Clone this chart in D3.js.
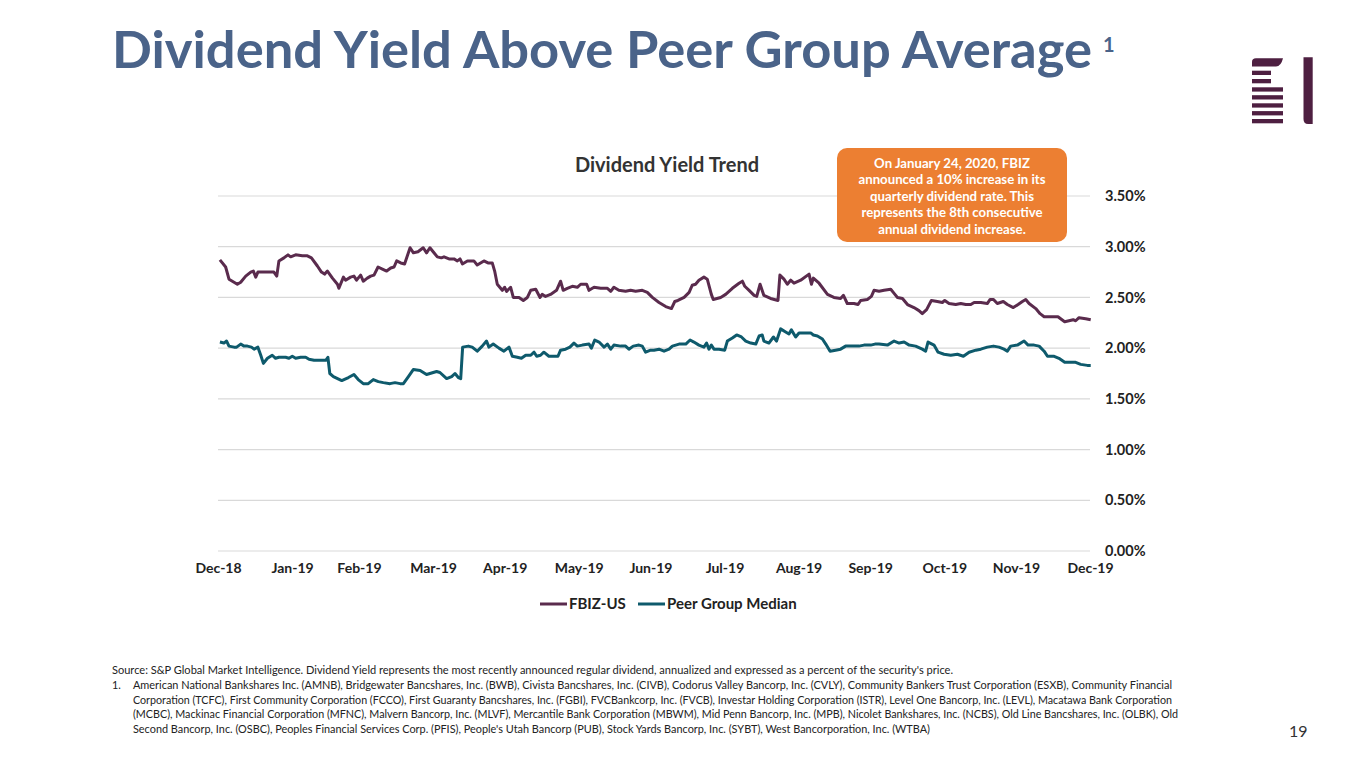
<!DOCTYPE html>
<html>
<head>
<meta charset="utf-8">
<script src="https://cdn.jsdelivr.net/npm/d3@7"></script>
<style>
  html, body { margin: 0; padding: 0; background: #fff; }
  svg { display: block; }
  text { font-family: Lato, "Open Sans", sans-serif; }
</style>
</head>
<body>
<svg id="chart" width="1365" height="768"></svg>
<script>
// ---------------- DATA ----------------
// Day of year (0 = 31 Dec 2018) and dividend yield (%)
const fbizDays = [0.8,3.2,4.6,6.0,8.1,9.5,11.6,13.7,14.8,15.8,16.7,19.3,23.4,24.6,25.5,27.6,29.3,30.4,32.5,35.3,37.4,39.1,41.6,43.3,44.6,45.8,47.9,50.0,50.6,52.5,53.4,55.5,56.9,58.0,59.7,60.8,62.5,63.9,65.3,67.0,68.8,70.6,72.3,73.7,74.8,76.5,78.1,80.4,81.8,83.7,85.9,87.3,88.7,90.4,91.8,93.5,94.6,96.7,98.8,100.2,101.3,102.3,104.4,107.1,108.5,111.3,113.0,114.8,115.8,116.9,119.0,120.0,120.8,122.5,123.6,126.0,127.8,129.5,130.9,133.0,134.8,135.7,137.1,139.2,141.7,143.4,144.5,146.2,148.3,150.4,151.8,154.3,155.3,157.4,160.2,163.0,164.4,165.7,167.8,170.6,172.7,174.8,177.6,179.7,181.8,184.6,187.4,189.8,191.2,192.5,195.1,197.2,198.5,199.9,201.3,203.4,204.8,206.5,207.3,210.4,212.5,215.3,218.1,219.5,220.5,222.3,224.4,225.5,226.9,228.5,231.3,234.4,235.2,236.9,238.3,239.7,241.1,243.9,247.4,248.4,249.2,251.6,255.1,257.8,260.6,261.8,263.4,266.2,267.9,269.0,271.8,273.5,274.6,276.7,278.8,281.6,283.0,284.4,286.5,288.6,291.3,293.4,294.8,296.6,298.6,301.1,303.2,304.2,306.0,308.8,310.9,313.0,315.1,316.5,319.3,322.0,323.2,324.6,326.2,328.7,330.4,332.9,334.9,336.7,338.1,339.5,342.3,344.1,345.8,348.5,351.6,352.7,354.4,356.2,358.0,359.0,360.4,363.2,365.3];
const fbizYield = [2.87,2.80,2.68,2.66,2.63,2.65,2.71,2.75,2.76,2.70,2.75,2.75,2.75,2.71,2.86,2.89,2.92,2.90,2.92,2.91,2.91,2.89,2.81,2.75,2.73,2.76,2.69,2.63,2.59,2.70,2.67,2.70,2.71,2.67,2.72,2.66,2.69,2.71,2.72,2.80,2.78,2.76,2.79,2.80,2.86,2.84,2.83,2.99,2.94,2.95,2.99,2.94,2.99,2.94,2.90,2.89,2.90,2.88,2.88,2.86,2.88,2.83,2.86,2.86,2.82,2.86,2.84,2.84,2.76,2.63,2.57,2.60,2.56,2.60,2.50,2.50,2.47,2.50,2.57,2.58,2.50,2.53,2.51,2.53,2.57,2.66,2.57,2.59,2.61,2.60,2.63,2.63,2.57,2.60,2.59,2.59,2.56,2.60,2.57,2.56,2.57,2.56,2.57,2.55,2.50,2.45,2.41,2.39,2.46,2.47,2.50,2.55,2.62,2.63,2.67,2.70,2.68,2.53,2.48,2.50,2.53,2.59,2.64,2.66,2.61,2.57,2.52,2.51,2.63,2.52,2.49,2.47,2.72,2.68,2.63,2.67,2.64,2.67,2.73,2.63,2.69,2.64,2.53,2.50,2.49,2.52,2.44,2.44,2.43,2.47,2.48,2.51,2.57,2.56,2.57,2.58,2.54,2.50,2.49,2.43,2.40,2.37,2.34,2.38,2.47,2.46,2.45,2.47,2.44,2.43,2.44,2.43,2.43,2.45,2.45,2.44,2.48,2.48,2.44,2.46,2.43,2.40,2.43,2.46,2.48,2.44,2.39,2.34,2.31,2.31,2.31,2.29,2.26,2.27,2.28,2.27,2.30,2.29,2.28];

const peerDays = [0.8,2.5,3.6,4.6,6.7,7.8,9.5,10.9,12.3,14.0,15.1,16.7,17.9,19.0,20.7,22.7,24.1,25.5,28.3,29.7,31.1,32.5,34.6,36.7,38.1,40.2,43.0,45.1,46.0,46.8,48.3,51.8,54.6,56.9,58.7,60.8,62.9,65.0,67.1,69.2,72.0,74.1,76.2,77.6,79.7,81.8,84.6,87.3,88.7,91.5,92.9,95.7,97.8,99.2,100.6,101.6,102.4,104.8,106.4,108.5,110.6,112.4,113.4,115.2,117.6,119.7,121.8,123.2,125.3,127.0,128.8,130.9,132.3,133.4,135.0,136.4,138.5,140.6,142.3,143.4,145.5,147.3,149.0,150.4,152.5,155.3,156.3,157.7,159.5,161.6,163.0,164.4,165.7,168.5,170.6,172.0,173.8,176.2,177.6,179.0,181.1,182.5,184.6,186.7,188.8,190.2,191.6,193.0,195.8,197.6,199.2,201.3,203.4,204.5,205.5,206.5,207.6,209.7,212.1,213.2,215.3,217.1,219.1,220.9,223.0,225.1,226.5,227.8,228.5,230.6,232.5,233.8,235.5,237.6,239.0,240.0,241.8,243.2,246.0,248.1,249.2,250.9,253.0,254.4,256.2,258.5,260.6,262.7,265.5,268.3,270.4,273.2,275.0,276.7,280.2,283.0,285.1,287.2,289.3,292.0,294.8,296.2,297.2,299.7,301.4,303.9,306.7,309.5,312.0,314.4,317.2,319.3,322.0,324.6,326.9,329.0,330.4,331.8,334.6,337.4,339.1,341.6,343.7,345.8,347.2,350.0,352.0,354.4,356.9,359.0,361.1,363.9,365.3];
const peerYield = [2.06,2.05,2.07,2.02,2.01,2.01,2.04,2.02,2.02,2.01,1.99,2.01,1.93,1.85,1.90,1.93,1.90,1.91,1.91,1.90,1.92,1.90,1.91,1.91,1.89,1.88,1.88,1.88,1.91,1.75,1.72,1.68,1.71,1.74,1.69,1.65,1.65,1.69,1.67,1.66,1.65,1.66,1.65,1.65,1.72,1.79,1.78,1.74,1.75,1.77,1.76,1.70,1.72,1.75,1.71,1.70,2.01,2.02,2.01,1.97,2.02,2.07,2.01,2.04,2.00,1.97,2.01,1.92,1.91,1.90,1.93,1.93,1.96,1.92,1.93,1.96,1.92,1.92,1.92,1.98,1.99,2.01,2.05,2.02,2.03,2.04,2.00,2.08,2.06,2.01,2.04,1.99,2.03,2.02,2.02,1.99,2.02,2.03,2.02,1.96,1.98,1.98,1.99,1.97,1.99,2.02,2.03,2.04,2.04,2.08,2.06,2.03,2.01,2.05,1.99,2.03,1.99,1.99,1.98,2.07,2.10,2.13,2.11,2.07,2.05,2.04,2.12,2.13,2.07,2.05,2.11,2.07,2.19,2.16,2.14,2.18,2.11,2.15,2.15,2.15,2.13,2.12,2.09,2.04,1.97,1.98,1.99,2.02,2.02,2.02,2.03,2.03,2.04,2.04,2.03,2.07,2.05,2.06,2.03,2.02,1.99,1.97,2.06,2.03,1.96,1.94,1.93,1.94,1.92,1.96,1.98,1.99,2.01,2.02,2.01,1.99,1.97,2.02,2.03,2.07,2.03,2.03,2.02,1.97,1.92,1.92,1.90,1.86,1.86,1.86,1.84,1.83,1.83];

const tickDates = ["2018-12-31","2019-01-31","2019-02-28","2019-03-31","2019-04-30","2019-05-31","2019-06-30","2019-07-31","2019-08-31","2019-09-30","2019-10-31","2019-11-30","2019-12-31"];
const yTicks = [0, 0.5, 1.0, 1.5, 2.0, 2.5, 3.0, 3.5];
const seriesNames = ["FBIZ-US", "Peer Group Median"];
const calloutLines = [
  "On January 24, 2020, FBIZ",
  "announced a 10% increase in its",
  "quarterly dividend rate. This",
  "represents the 8th consecutive",
  "annual dividend increase."
];
const footLines = [
  "Source: S&P Global Market Intelligence. Dividend Yield represents the most recently announced regular dividend, annualized and expressed as a percent of the security's price.",
  "American National Bankshares Inc. (AMNB), Bridgewater Bancshares, Inc. (BWB), Civista Bancshares, Inc. (CIVB), Codorus Valley Bancorp, Inc. (CVLY), Community Bankers Trust Corporation (ESXB), Community Financial",
  "Corporation (TCFC), First Community Corporation (FCCO), First Guaranty Bancshares, Inc. (FGBI), FVCBankcorp, Inc. (FVCB), Investar Holding Corporation (ISTR), Level One Bancorp, Inc. (LEVL), Macatawa Bank Corporation",
  "(MCBC), Mackinac Financial Corporation (MFNC), Malvern Bancorp, Inc. (MLVF), Mercantile Bank Corporation (MBWM), Mid Penn Bancorp, Inc. (MPB), Nicolet Bankshares, Inc. (NCBS), Old Line Bancshares, Inc. (OLBK), Old",
  "Second Bancorp, Inc. (OSBC), Peoples Financial Services Corp. (PFIS), People's Utah Bancorp (PUB), Stock Yards Bancorp, Inc. (SYBT), West Bancorporation, Inc. (WTBA)"
];

// ---------------- DRAW ----------------
const svg = d3.select("#chart");
const purple = "#5a2b4d", teal = "#0e5a6c", orange = "#ec7f32";
const base = new Date(2018, 11, 31).getTime();
const toDate = d => new Date(base + d * 864e5);
const parse = d3.timeParse("%Y-%m-%d");

const x = d3.scaleTime().domain([parse(tickDates[0]), parse(tickDates[tickDates.length - 1])]).range([218, 1090]);
const y = d3.scaleLinear().domain([0, 3.5]).range([551, 196]);

svg.append("rect").attr("width", 1365).attr("height", 768).attr("fill", "#fff");

// Title
svg.append("text").attr("x", 112).attr("y", 68)
  .attr("font-size", 52).attr("font-weight", 700).attr("fill", "#4a6389")
  .attr("textLength", 980).attr("lengthAdjust", "spacingAndGlyphs")
  .text("Dividend Yield Above Peer Group Average");
svg.append("text").attr("x", 1103).attr("y", 52)
  .attr("font-size", 20).attr("font-weight", 700).attr("fill", "#4a6389").text("1");

// Logo
const logo = svg.append("g").attr("fill", "#4e1f41");
logo.append("path").attr("d", "M1252,66.5 L1252,62 Q1252,58.3 1256,58.3 L1283,58.3 Q1281,66.5 1276,66.5 Z");
[[70.7, 19], [79, 19], [87.3, 31], [95.2, 31], [103.3, 31], [111.1, 31], [119, 31]].forEach(([yy, w]) => {
  logo.append("rect").attr("x", 1252).attr("y", yy).attr("width", w).attr("height", 4.3);
});
logo.append("path").attr("d", "M1303.5,57.3 L1312.7,57.3 L1312.7,124 L1308,124 Q1303.5,124 1303.5,119 Z");

// Chart title
svg.append("text").attr("x", 667).attr("y", 172).attr("text-anchor", "middle")
  .attr("font-size", 20).attr("font-weight", 700).attr("fill", "#333").text("Dividend Yield Trend");

// Gridlines
svg.append("g").selectAll("line").data(yTicks).join("line")
  .attr("x1", 218).attr("x2", 1090)
  .attr("y1", d => y(d)).attr("y2", d => y(d))
  .attr("stroke", "#d9d9d9").attr("stroke-width", 1.2);

// Y axis (right)
const yAxis = d3.axisRight(y).tickValues(yTicks).tickFormat(d => d3.format(".2f")(d) + "%").tickSize(0).tickPadding(0);
const gy = svg.append("g").attr("transform", "translate(1105,0)").call(yAxis);
gy.select(".domain").remove();
gy.selectAll("text").attr("font-family", "Lato, sans-serif").attr("font-size", 14.5).attr("font-weight", 700).attr("fill", "#222");

// X axis
const xAxis = d3.axisBottom(x).tickValues(tickDates.map(parse)).tickFormat(d3.timeFormat("%b-%y")).tickSize(0).tickPadding(0);
const gx = svg.append("g").attr("transform", "translate(0,563)").call(xAxis);
gx.select(".domain").remove();
gx.selectAll("text").attr("font-family", "Lato, sans-serif").attr("font-size", 14).attr("font-weight", 700).attr("fill", "#222");

// Lines
const line = d3.line().x(d => x(toDate(d[0]))).y(d => y(d[1]));
const series = [
  { name: seriesNames[0], color: purple, pts: d3.zip(fbizDays, fbizYield) },
  { name: seriesNames[1], color: teal, pts: d3.zip(peerDays, peerYield) }
];
svg.append("g").selectAll("path").data(series).join("path")
  .attr("d", d => line(d.pts)).attr("fill", "none")
  .attr("stroke", d => d.color).attr("stroke-width", 3).attr("stroke-linejoin", "round");

// Legend
const legX = [540, 638];
const leg = svg.append("g").selectAll("g").data(series).join("g")
  .attr("transform", (d, i) => `translate(${legX[i]},604)`);
leg.append("line").attr("x1", 0).attr("x2", 27).attr("stroke", d => d.color).attr("stroke-width", 3);
leg.append("text").attr("x", 29).attr("y", 5).attr("font-size", 15).attr("font-weight", 700).attr("fill", "#222").text(d => d.name);

// Callout
svg.append("rect").attr("x", 837).attr("y", 148).attr("width", 230).attr("height", 94)
  .attr("rx", 10).attr("fill", orange);
svg.append("g").selectAll("text").data(calloutLines).join("text")
  .attr("x", 952).attr("y", (d, i) => 167.5 + i * 16.6).attr("text-anchor", "middle")
  .attr("font-size", 13.2).attr("font-weight", 700).attr("fill", "#fff").text(d => d);

// Footnotes
const footY = [674, 689, 703.5, 718, 732.5];
const footX = [112, 133, 133, 133, 133];
const footW = [841, 1039, 1039, 1045, 797];
svg.append("g").selectAll("text").data(footLines).join("text")
  .attr("x", (d, i) => footX[i]).attr("y", (d, i) => footY[i])
  .attr("font-size", 10.8).attr("fill", "#222")
  .attr("textLength", (d, i) => footW[i]).attr("lengthAdjust", "spacingAndGlyphs")
  .text(d => d);
svg.append("text").attr("x", 112).attr("y", 689).attr("font-size", 10.8).attr("fill", "#222").text("1.");

// Page number
svg.append("text").attr("x", 1289).attr("y", 737).attr("font-size", 16).attr("fill", "#333").text("19");
</script>
</body>
</html>
